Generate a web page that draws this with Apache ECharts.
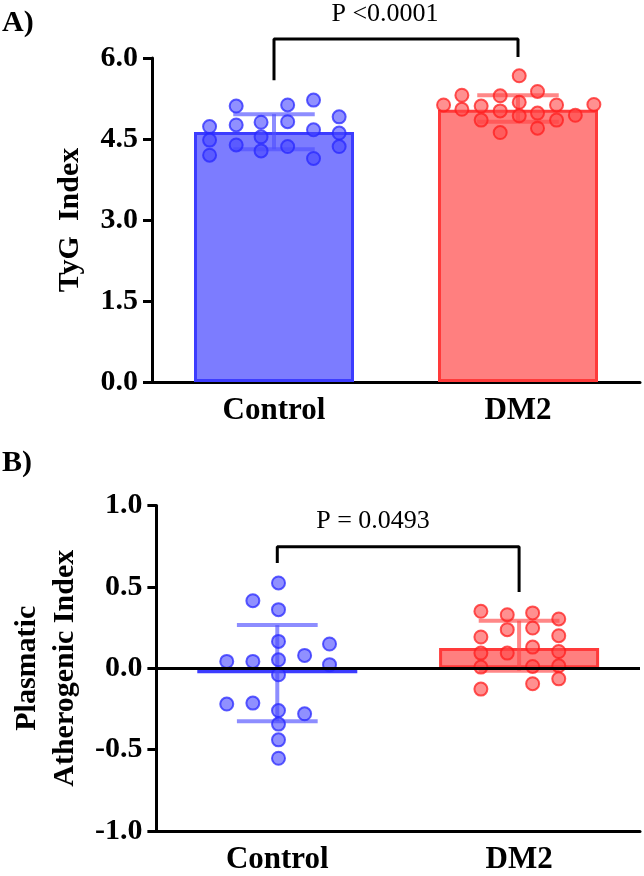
<!DOCTYPE html>
<html>
<head>
<meta charset="utf-8">
<script src="https://cdn.jsdelivr.net/npm/echarts@6/dist/echarts.min.js"></script>
<style>
  html, body { margin: 0; padding: 0; background: #fff; }
  #chart { width: 644px; height: 876px; }
</style>
</head>
<body>
<div id="chart"></div>
<script>
const groups = ['Control', 'DM2'];
const serif = "'Liberation Serif', 'Times New Roman', serif";

// Panel A - TyG index (mean, SD limits, individual points as [x position, value])
const tygMeans = [4.63, 5.04];
const tygLow = [4.31, 4.82];
const tygHigh = [4.96, 5.31];
const tygControl = [
  [0.736, 4.73], [0.736, 4.48], [0.736, 4.20],
  [0.845, 5.11], [0.845, 4.76], [0.845, 4.39],
  [0.947, 4.81], [0.947, 4.54], [0.947, 4.28],
  [1.056, 5.13], [1.056, 4.82], [1.056, 4.36],
  [1.162, 5.22], [1.162, 4.67], [1.162, 4.14],
  [1.267, 4.91], [1.267, 4.61], [1.267, 4.36]
];
const tygDM2 = [
  [1.695, 5.13],
  [1.770, 5.31], [1.770, 5.05],
  [1.849, 5.11], [1.849, 4.85],
  [1.927, 5.30], [1.927, 5.02], [1.927, 4.62],
  [2.005, 5.67], [2.005, 5.18], [2.005, 4.93],
  [2.080, 5.38], [2.080, 4.98], [2.080, 4.70],
  [2.158, 5.13], [2.158, 4.85],
  [2.235, 4.94],
  [2.311, 5.14]
];
const tygTicks = [0, 6, 1.5];
const tygBracket = [[1, 5.59], [1, 6.35], [2, 6.35], [2, 6.02]];

// Panel B - plasmatic atherogenic index
const paiMeans = [-0.03, 0.124];
const paiLow = [-0.325, -0.015];
const paiHigh = [0.265, 0.292];
const paiControl = [
  [1.005, 0.524], [0.899, 0.415], [1.005, 0.36], [1.005, 0.165],
  [1.216, 0.149], [1.113, 0.079], [0.791, 0.042], [0.899, 0.042],
  [1.005, 0.052], [1.216, 0.022], [1.005, -0.04], [0.791, -0.22],
  [0.899, -0.214], [1.005, -0.26], [1.113, -0.28], [1.005, -0.343],
  [1.005, -0.44], [1.005, -0.553]
];
const paiDM2 = [
  [1.842, 0.35], [1.951, 0.329], [2.056, 0.34], [2.164, 0.303],
  [1.951, 0.237], [2.056, 0.247], [1.842, 0.192], [2.164, 0.2],
  [2.056, 0.13], [1.842, 0.093], [1.951, 0.093], [2.164, 0.103],
  [1.842, 0.007], [2.056, 0.011], [2.164, 0.015], [2.164, -0.065],
  [2.056, -0.095], [1.842, -0.128]
];
const paiTicks = [-1, 1, 0.5];
const paiBracket = [[1, 0.647], [1, 0.747], [2, 0.747], [2, 0.469]];

const pTexts = ['P <0.0001', 'P = 0.0493'];

// colours
const blueFill = '#7c7cff', blueEdge = '#3c3cff';
const redFill = '#ff7f7f', redEdge = '#ff3a3a';
const blueDot = 'rgba(70,70,255,0.6)', blueDotEdge = 'rgba(40,40,255,0.75)';
const redDot = 'rgba(255,70,70,0.6)', redDotEdge = 'rgba(255,30,30,0.75)';
const blueErr = 'rgba(80,80,255,0.65)', redErr = 'rgba(255,70,70,0.65)';
const capHalf = 0.167;

const chart = echarts.init(document.getElementById('chart'));

function errorBars(low, high) {
  return low.map((v, i) => [i + 1, v, high[i]]);
}

function renderErr(params, api) {
  const x = api.value(0);
  const lo = api.value(1), hi = api.value(2);
  const a = api.coord([x, lo]), b = api.coord([x, hi]);
  const l1 = api.coord([x - capHalf, lo]), r1 = api.coord([x + capHalf, lo]);
  const l2 = api.coord([x - capHalf, hi]), r2 = api.coord([x + capHalf, hi]);
  const color = params.dataIndex === 0 ? blueErr : redErr;
  const style = { stroke: color, lineWidth: 4, fill: null };
  return {
    type: 'group',
    children: [
      { type: 'line', shape: { x1: a[0], y1: a[1], x2: b[0], y2: b[1] }, style },
      { type: 'line', shape: { x1: l1[0], y1: l1[1], x2: r1[0], y2: r1[1] }, style },
      { type: 'line', shape: { x1: l2[0], y1: l2[1], x2: r2[0], y2: r2[1] }, style }
    ]
  };
}

function catAxis(gridIndex) {
  return {
    type: 'category',
    gridIndex,
    data: groups,
    axisLine: { onZero: false, lineStyle: { color: '#000', width: 3 } },
    axisTick: { alignWithLabel: true, length: 7, lineStyle: { color: '#000', width: 3 } },
    axisLabel: { color: '#000', fontFamily: serif, fontWeight: 'bold', fontSize: 31, margin: 13 }
  };
}

function posAxis(gridIndex) {
  return { type: 'value', gridIndex, min: 0.5, max: 2.5, show: false };
}

function valAxis(gridIndex, ticks, name, nameGap) {
  return {
    type: 'value',
    gridIndex,
    min: ticks[0], max: ticks[1], interval: ticks[2],
    name,
    nameLocation: 'middle',
    nameGap,
    nameTextStyle: { color: '#000', fontFamily: serif, fontWeight: 'bold', fontSize: 30, lineHeight: 38 },
    axisLine: { show: true, onZero: false, lineStyle: { color: '#000', width: 3 } },
    axisTick: { show: true, length: 9, lineStyle: { color: '#000', width: 3 } },
    axisLabel: {
      color: '#000', fontFamily: serif, fontWeight: 'bold', fontSize: 30, margin: 14,
      formatter: v => v.toFixed(1)
    },
    splitLine: { show: false }
  };
}

function barSeries(xi, yi, means) {
  return {
    type: 'bar',
    xAxisIndex: xi, yAxisIndex: yi,
    barWidth: 160,
    z: 2,
    data: means.map((m, i) => ({
      value: m,
      itemStyle: {
        color: i === 0 ? blueFill : redFill,
        borderColor: i === 0 ? blueEdge : redEdge,
        borderWidth: 3
      }
    }))
  };
}

function dotSeries(xi, yi, data, fill, edge) {
  return {
    type: 'scatter',
    xAxisIndex: xi, yAxisIndex: yi,
    symbolSize: 13,
    z: 4,
    data,
    itemStyle: { color: fill, borderColor: edge, borderWidth: 2, opacity: 1 }
  };
}

function errSeries(xi, yi, low, high) {
  return {
    type: 'custom',
    xAxisIndex: xi, yAxisIndex: yi,
    z: 3,
    renderItem: renderErr,
    data: errorBars(low, high)
  };
}

function bracketSeries(xi, yi, data) {
  return {
    type: 'line',
    xAxisIndex: xi, yAxisIndex: yi,
    data,
    clip: false,
    symbol: 'none',
    z: 5,
    lineStyle: { color: '#000', width: 3 }
  };
}

const zeroLine = barSeries(2, 1, paiMeans);
zeroLine.markLine = {
  silent: true,
  symbol: 'none',
  label: { show: false },
  lineStyle: { color: '#000', width: 3, type: 'solid' },
  data: [{ yAxis: 0 }]
};

const option = {
  animation: false,
  backgroundColor: '#fff',
  grid: [
    { left: 152, top: 58, width: 488, height: 324 },
    { left: 152, top: 505.5, width: 488, height: 325.5 }
  ],
  xAxis: [catAxis(0), posAxis(0), catAxis(1), posAxis(1)],
  yAxis: [
    valAxis(0, tygTicks, 'TyG  Index', 63),
    valAxis(1, paiTicks, 'Plasmatic\nAtherogenic Index', 72)
  ],
  graphic: [
    { type: 'text', left: 2, top: 8, style: { text: 'A)', font: 'bold 30px ' + serif, fill: '#000' } },
    { type: 'text', left: 2, top: 448, style: { text: 'B)', font: 'bold 30px ' + serif, fill: '#000' } },
    { type: 'text', x: 385, y: 14, style: { text: pTexts[0], font: '26px ' + serif, fill: '#000', textAlign: 'center', textVerticalAlign: 'middle' } },
    { type: 'text', x: 373, y: 521, style: { text: pTexts[1], font: '26px ' + serif, fill: '#000', textAlign: 'center', textVerticalAlign: 'middle' } }
  ],
  series: [
    barSeries(0, 0, tygMeans),
    errSeries(1, 0, tygLow, tygHigh),
    dotSeries(1, 0, tygControl, blueDot, blueDotEdge),
    dotSeries(1, 0, tygDM2, redDot, redDotEdge),
    bracketSeries(1, 0, tygBracket),

    zeroLine,
    errSeries(3, 1, paiLow, paiHigh),
    dotSeries(3, 1, paiControl, blueDot, blueDotEdge),
    dotSeries(3, 1, paiDM2, redDot, redDotEdge),
    bracketSeries(3, 1, paiBracket)
  ]
};

chart.setOption(option);
</script>
</body>
</html>
